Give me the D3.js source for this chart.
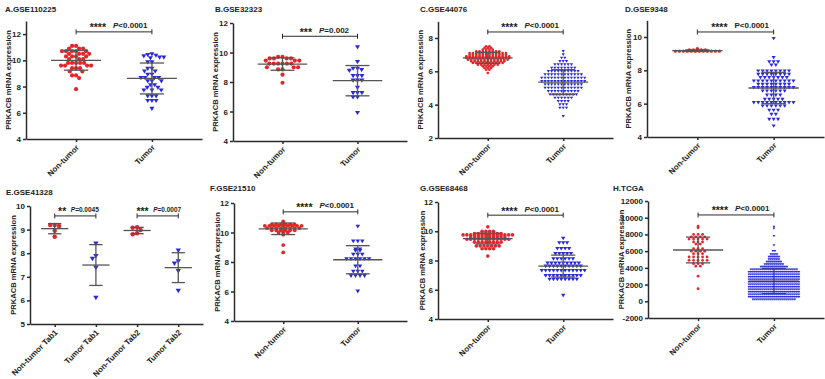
<!DOCTYPE html>
<html lang="en">
<head>
<meta charset="UTF-8">
<title>PRKACB mRNA expression</title>
<style>
  body { margin: 0; background: #fff; }
  svg { display: block; font-family: "Liberation Sans", Arial, Helvetica, sans-serif; }
</style>
</head>
<body>
<svg id="chart" width="825" height="379"></svg>
<script src="https://d3js.org/d3.v7.min.js"></script>
<script>
// ---- data ----
const cats2 = ["Non-tumor", "Tumor"];
const catsE = ["Non-tumor Tab1", "Tumor Tab1", "Non-Tumor Tab2", "Tumor Tab2"];

const aNormal = [11.1, 11.1, 10.9, 10.9, 10.9, 10.7, 10.7, 10.7, 10.7, 10.7, 10.5, 10.5, 10.5, 10.5,
  10.3, 10.3, 10.3, 10.3, 10.1, 10.1, 10.1, 9.8, 9.8, 9.8, 9.8, 9.8, 9.6, 9.6, 9.6, 9.6,
  9.4, 9.4, 9.4, 9.15, 9.15, 8.85, 8.85, 8.65, 7.8];
const aTumor = [10.45, 10.4, 10.35, 10.3, 10.2, 10.15, 10.2, 9.85, 9.85, 9.35, 9.35, 9.15, 9.15,
  8.9, 8.9, 8.65, 8.65, 8.65, 8.65, 8.4, 8.4, 8.4, 8.1, 8.1, 7.9, 7.9, 7.7, 7.7, 7.7,
  7.25, 7.25, 7.25, 6.9, 6.9, 6.9, 6.3];

const bNormal = [9.7, 9.7, 9.6, 9.6, 9.6, 9.6, 9.45, 9.45, 9.45, 9.25, 9.25, 9.25, 9.25, 9.25, 9.25,
  9.0, 9.0, 9.0, 8.85, 8.85, 8.5, 7.95];
const bTumor = [10.35, 9.35, 8.9, 8.9, 8.8, 8.75, 8.4, 8.4, 8.4, 8.1, 8.1, 8.1, 7.6, 7.25, 7.25, 7.25,
  6.95, 6.95, 5.9];

const cNormalLevels = [7.5, 7.4, 7.3, 7.2, 7.1, 7.0, 6.9, 6.8, 6.7, 6.6, 6.5, 6.4, 6.3, 6.2, 6.1, 5.9];
const cNormalCounts = [2, 3, 4, 8, 12, 12, 14, 14, 13, 11, 10, 7, 4, 3, 2, 1];
const cTumorLevels = [7.2, 7.0, 6.8, 6.6, 6.4, 6.2, 6.0, 5.8, 5.6, 5.4, 5.2, 5.0, 4.8, 4.6, 4.4, 4.2, 4.0, 3.8, 3.3];
const cTumorCounts = [1, 1, 2, 3, 6, 8, 10, 12, 14, 14, 12, 12, 10, 9, 6, 4, 3, 3, 1];

const dNormalLevels = [9.3, 9.22, 9.15];
const dNormalCounts = [1, 5, 12];
const dTumorLevels = [9.9, 8.75, 8.5, 8.3, 7.95, 7.75, 7.55, 7.35, 7.15, 6.95, 6.75, 6.5, 6.25, 6.05, 5.85, 5.6, 5.35, 5.05, 4.65];
const dTumorCounts = [1, 1, 3, 2, 8, 8, 7, 10, 8, 10, 6, 4, 5, 10, 6, 3, 2, 3, 1];

const eNormal1 = [9.2, 9.2, 9.15, 8.95, 8.7];
const eTumor1 = [8.4, 7.87, 7.75, 7.37, 6.1];
const eNormal2 = [9.1, 9.08, 8.98, 8.85, 8.8];
const eTumor2 = [8.1, 7.65, 7.55, 7.24, 6.4];

const fNormalLevels = [10.75, 10.55, 10.45, 10.3, 10.15, 10.0, 9.85, 9.15, 8.65];
const fNormalCounts = [1, 6, 9, 8, 6, 3, 1, 1, 1];
const fTumor = [10.4, 9.4, 9.4, 9.4, 8.85, 8.85, 8.75, 8.75, 8.5, 8.5, 8.5, 8.2, 8.2, 8.2, 8.2, 8.2, 8.2,
  7.7, 7.7, 7.35, 7.35, 7.35, 7.05, 7.05, 7.05, 7.05, 6.0];

const gNormalLevels = [10.3, 10.0, 9.85, 9.75, 9.6, 9.45, 9.25, 9.0, 8.8, 8.3];
const gNormalCounts = [1, 4, 8, 14, 10, 12, 8, 7, 4, 1];
const gTumorLevels = [9.5, 9.2, 8.8, 8.45, 8.1, 7.8, 7.6, 7.3, 6.95, 6.7, 5.6];
const gTumorCounts = [1, 3, 4, 5, 6, 9, 10, 12, 10, 8, 1];

const hNormal = [9000, 8800, 8000, 8000, 8000, 7700, 7700, 7700, 7700, 7450, 7450, 7450, 7450, 7450,
  7100, 7100, 7100, 6850, 6850, 6300, 6300, 6300, 6000, 6000, 6000, 6000, 5700, 5700, 5700,
  5300, 5300, 5300, 5300, 5300, 4900, 4900, 4900, 4900, 4900, 4500, 4500, 4500, 4200, 4200, 3000, 1500];
const hTumorLevels = [8900, 8700, 7800, 6700, 6000, 5600, 5300, 5000, 4700, 4400, 4100, 3800, 3500, 3200,
  2900, 2600, 2300, 2000, 1700, 1400, 1100, 800, 500, 200];
const hTumorCounts = [1, 1, 1, 1, 2, 4, 6, 6, 8, 10, 14, 24, 26, 26, 26, 26, 26, 26, 26, 26, 26, 26, 26, 22];

// significance: y level of bracket (data units), stars, p text
const sigLevels = [12.17, 11.1, 8.36, 10.3, 9.58, 9.58, 11.4, 11.1, 10330];
const sigStars = ["****", "***", "****", "****", "**", "***", "****", "****", "****"];
const sigP = ["<0.0001", "=0.002", "<0.0001", "<0.0001", "=0.0045", "=0.0007", "<0.0001", "<0.0001", "<0.0001"];

const expand = (levels, counts) => levels.flatMap((v, i) => d3.range(counts[i]).map(() => v));

// ---- drawing ----
const svg = d3.select("#chart");
const red = "#e3262b", blue = "#2a2ad8", barColor = "#555", axisColor = "#2b2b2b";

const panels = [
  { title: "A.GSE110225", tx: 5, ty: 12, x0: 26, x1: 202, yTop: 21, yBot: 139, domain: [4, 13], ticks: [4, 6, 8, 10, 12], lab: 18,
    cats: cats2, series: [aNormal, aTumor], size: [4.2, 4.2], gap: [4.0, 4.2], sig: [[0, 1, 0]] },
  { title: "B.GSE32323", tx: 215, ty: 12, x0: 233, x1: 407, yTop: 23, yBot: 141, domain: [4, 12], ticks: [4, 6, 8, 10, 12], lab: 18,
    cats: cats2, series: [bNormal, bTumor], size: [4.2, 4.2], gap: [4.4, 4.4], sig: [[0, 1, 1]] },
  { title: "C.GSE44076", tx: 420, ty: 12, x0: 438, x1: 613, yTop: 21.3, yBot: 138, domain: [2, 9], ticks: [2, 4, 6, 8], lab: 18,
    cats: cats2, series: [expand(cNormalLevels, cNormalCounts), expand(cTumorLevels, cTumorCounts)],
    size: [2.7, 2.7], gap: [3.3, 3.3], rows: true, sig: [[0, 1, 2]] },
  { title: "D.GSE9348", tx: 625, ty: 12, x0: 647, x1: 824, yTop: 20.3, yBot: 137, domain: [4, 11], ticks: [4, 6, 8, 10], lab: 19,
    cats: cats2, series: [expand(dNormalLevels, dNormalCounts), expand(dTumorLevels, dTumorCounts)],
    size: [3.4, 3.4], gap: [4.0, 4.4], rows: true, sig: [[0, 1, 3]], upright: true },
  { title: "E.GSE41328", tx: 6, ty: 195, x0: 30, x1: 203, yTop: 206, yBot: 324, domain: [5, 10], ticks: [5, 6, 7, 8, 9, 10], lab: 17,
    cats: catsE, series: [eNormal1, eTumor1, eNormal2, eTumor2], size: [4.5, 4.5, 4.5, 4.5], gap: [4.5, 4.5, 4.5, 4.5],
    sig: [[0, 1, 4], [2, 3, 5]], small: true, pad: 0.6 },
  { title: "F.GSE21510", tx: 210, ty: 191, x0: 234, x1: 407, yTop: 203, yBot: 321, domain: [4, 12], ticks: [4, 6, 8, 10, 12], lab: 17,
    cats: cats2, series: [expand(fNormalLevels, fNormalCounts), fTumor], size: [3.8, 3.8], gap: [4.6, 4.5], rows: true, sig: [[0, 1, 6]] },
  { title: "G.GSE68468", tx: 420, ty: 191, x0: 438, x1: 613, yTop: 202, yBot: 319, domain: [4, 12], ticks: [4, 6, 8, 10, 12], lab: 16,
    cats: cats2, series: [expand(gNormalLevels, gNormalCounts), expand(gTumorLevels, gTumorCounts)],
    size: [3.6, 3.6], gap: [3.8, 3.9], rows: true, sig: [[0, 1, 7]] },
  { title: "H.TCGA", tx: 613, ty: 191, x0: 648, x1: 824, yTop: 201, yBot: 318, domain: [-2000, 12000], ticks: d3.range(-2000, 12001, 2000), lab: 27,
    cats: cats2, series: [hNormal, expand(hTumorLevels, hTumorCounts)], size: [2.8, 2.3], gap: [4.5, 2.0], rows: true,
    barsBehind: [false, true], sig: [[0, 1, 8]] }
];

// beeswarm: push each point sideways until it no longer overlaps
function dodge(ys, cx, d) {
  const xs = new Array(ys.length);
  const placed = [];
  ys.map((y, i) => [y, i]).sort((a, b) => a[0] - b[0]).forEach(([y, i]) => {
    const blocks = [];
    for (const p of placed) {
      const dy = Math.abs(p.y - y);
      if (dy < d) {
        const w = Math.sqrt(d * d - dy * dy);
        blocks.push([p.x - w, p.x + w]);
      }
    }
    const cands = [cx];
    blocks.forEach(b => cands.push(b[0], b[1]));
    cands.sort((a, b) => Math.abs(a - cx) - Math.abs(b - cx));
    const x = cands.find(c => blocks.every(b => c <= b[0] + 1e-6 || c >= b[1] - 1e-6));
    xs[i] = x;
    placed.push({ x, y });
  });
  return xs;
}

// GraphPad-like rows: equal values share a row, centred on the category
function rowLayout(vals, cx, d) {
  const xs = new Array(vals.length);
  d3.group(vals.map((v, i) => [v, i]), e => e[0]).forEach(row => {
    row.forEach(([, i], j) => { xs[i] = cx + (j - (row.length - 1) / 2) * d; });
  });
  return xs;
}

const tri = (s) => {
  const w = s * 1.2, h = s;
  return `M${-w / 2},${-h / 2}L${w / 2},${-h / 2}L0,${h / 2}Z`;
};

panels.forEach(p => {
  const g = svg.append("g");
  const y = d3.scaleLinear().domain(p.domain).range([p.yBot, p.yTop]);
  const x = d3.scalePoint().domain(p.cats).range([p.x0, p.x1]).padding(p.pad || 0.66);
  const step = x.step();

  g.append("text").attr("x", p.tx).attr("y", p.ty)
    .attr("font-size", 8).attr("font-weight", "bold").attr("fill", "#222").text(p.title);

  // y axis
  g.append("g").attr("transform", `translate(${p.x0},0)`)
    .call(d3.axisLeft(y).tickValues(p.ticks).tickSize(3).tickSizeOuter(0).tickPadding(2).tickFormat(d => String(d)))
    .call(a => {
      a.select(".domain").attr("stroke", axisColor).attr("stroke-width", 1.5);
      a.selectAll(".tick line").attr("stroke", axisColor).attr("stroke-width", 1.5);
      a.selectAll(".tick text").attr("font-size", 8).attr("font-weight", "bold")
        .attr("font-family", null).attr("fill", "#222");
    });

  // x axis
  g.append("g").attr("transform", `translate(0,${p.yBot})`)
    .call(d3.axisBottom(x).tickSize(3).tickSizeOuter(0))
    .call(a => {
      a.select(".domain").attr("stroke", axisColor).attr("stroke-width", 1.5);
      a.selectAll(".tick line").attr("stroke", axisColor).attr("stroke-width", 1.5);
      a.selectAll(".tick text").attr("font-size", 8).attr("font-weight", "bold")
        .attr("font-family", null).attr("fill", "#222")
        .attr("x", 0).attr("y", 0).attr("dy", null)
        .attr("text-anchor", "end")
        .attr("transform", "translate(3,9) rotate(-45)");
    });

  // y label
  g.append("text")
    .attr("transform", `translate(${p.x0 - p.lab},${(p.yTop + p.yBot) / 2}) rotate(-90)`)
    .attr("text-anchor", "middle").attr("dy", "0.35em")
    .attr("font-size", 7.6).attr("font-weight", "bold").attr("fill", "#222")
    .text("PRKACB mRNA expression");

  const drawBars = (vals, i) => {
    const cx = x(p.cats[i]);
    const m = d3.mean(vals), sd = d3.deviation(vals);
    const wm = step * 0.33, ws = step * 0.16;
    const bars = g.append("g").attr("stroke", barColor).attr("stroke-width", 1.3).attr("fill", "none");
    bars.append("line").attr("x1", cx - wm).attr("x2", cx + wm).attr("y1", y(m)).attr("y2", y(m));
    bars.append("line").attr("x1", cx).attr("x2", cx).attr("y1", y(m - sd)).attr("y2", y(m + sd));
    [m - sd, m + sd].forEach(v => bars.append("line")
      .attr("x1", cx - ws).attr("x2", cx + ws).attr("y1", y(v)).attr("y2", y(v)));
  };
  const behind = p.barsBehind || [];

  p.series.forEach((vals, i) => { if (behind[i]) drawBars(vals, i); });

  // points
  p.series.forEach((vals, i) => {
    const cx = x(p.cats[i]);
    const ys = vals.map(v => y(v));
    const xs = p.rows ? rowLayout(vals, cx, p.gap[i]) : dodge(ys, cx, p.gap[i]);
    const isNormal = i % 2 === 0;
    const s = p.size[i];
    const sel = g.append("g").selectAll("path").data(vals).join("path")
      .attr("transform", (d, j) => `translate(${xs[j]},${ys[j]})`)
      .attr("fill", isNormal ? red : blue);
    if (isNormal) sel.attr("d", d3.symbol(d3.symbolCircle, Math.PI * s * s / 4)());
    else sel.attr("d", tri(s));
  });

  p.series.forEach((vals, i) => { if (!behind[i]) drawBars(vals, i); });

  // significance brackets
  p.sig.forEach(([a, b, k]) => {
    const xa = x(p.cats[a]), xb = x(p.cats[b]), ly = y(sigLevels[k]);
    const mid = (xa + xb) / 2;
    const br = g.append("g").attr("stroke", axisColor).attr("stroke-width", 1);
    br.append("line").attr("x1", xa).attr("x2", xb).attr("y1", ly).attr("y2", ly);
    [xa, xb].forEach(xx => br.append("line").attr("x1", xx).attr("x2", xx).attr("y1", ly - 2.5).attr("y2", ly + 2.5));
    g.append("text").attr("x", mid - (p.small ? 9 : 8)).attr("y", ly - 0.5)
      .attr("text-anchor", "end").attr("font-size", 10.5).attr("font-weight", "bold").attr("fill", "#222")
      .text(sigStars[k]);
    const t = g.append("text").attr("x", mid + (p.small ? -4.5 : -1)).attr("y", ly - 3.5)
      .attr("font-size", p.small ? 6.5 : 8).attr("font-weight", "bold").attr("fill", "#222");
    t.append("tspan").attr("font-style", p.upright ? "normal" : "italic").text("P");
    t.append("tspan").text(sigP[k]);
  });
});
</script>
</body>
</html>
